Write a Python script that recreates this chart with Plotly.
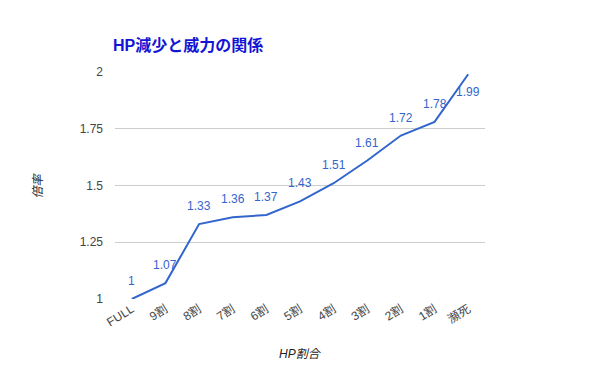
import plotly.graph_objects as go

categories = ["FULL", "9割", "8割", "7割", "6割", "5割", "4割", "3割", "2割", "1割", "瀕死"]
values = [1, 1.07, 1.33, 1.36, 1.37, 1.43, 1.51, 1.61, 1.72, 1.78, 1.99]
labels = ["1", "1.07", "1.33", "1.36", "1.37", "1.43", "1.51", "1.61", "1.72", "1.78", "1.99"]
y_ticks = [1, 1.25, 1.5, 1.75, 2]
y_ticktext = ["1", "1.25", "1.5", "1.75", "2"]

FONT = "Liberation Sans, Arial, Noto Sans CJK JP, sans-serif"

fig = go.Figure()
fig.add_trace(go.Scatter(
    x=list(range(len(categories))), y=values,
    mode="lines",
    line=dict(color="#3366cc", width=2),
    cliponaxis=False,
    hoverinfo="skip",
))

for i, (v, t) in enumerate(zip(values, labels)):
    below = i == len(values) - 1
    fig.add_annotation(
        x=i, y=v, text=t, showarrow=False,
        yshift=-18 if below else 18,
        font=dict(color="#3366cc", size=12, family=FONT),
    )

fig.add_annotation(
    xref="paper", yref="paper", x=0.5, y=-55 / 227, yanchor="middle",
    text="<i>HP割合</i>", showarrow=False,
    font=dict(size=12, color="#222222", family=FONT),
)
fig.add_annotation(
    xref="paper", yref="paper", x=-78 / 370, y=0.5, xanchor="center",
    text="<i>倍率</i>", showarrow=False, textangle=-90,
    font=dict(size=12, color="#222222", family=FONT),
)

# page body has an 8px default margin, compensate so the plot sits where the reference does
fig.update_layout(
    width=600, height=371,
    margin=dict(l=107, r=123, t=64, b=80),
    paper_bgcolor="white", plot_bgcolor="white",
    showlegend=False,
    font=dict(family=FONT, color="#444444", size=12),
    title=dict(
        text="<b>HP減少と威力の関係</b>",
        x=105 / 600, xanchor="left", y=1 - 37 / 371, yanchor="middle",
        font=dict(size=16, color="#1414d4", family=FONT),
    ),
    xaxis=dict(
        range=[-0.5, len(categories) - 0.5],
        tickmode="array",
        tickvals=list(range(len(categories))),
        ticktext=categories,
        tickangle=-32,
        showgrid=False, zeroline=False, showline=False,
        ticks="", automargin=False,
        tickfont=dict(size=12, color="#444444"),
        fixedrange=True,
    ),
    yaxis=dict(
        range=[1, 2],
        tickmode="array",
        tickvals=y_ticks,
        ticktext=y_ticktext,
        showgrid=True, gridcolor="#cccccc", gridwidth=1,
        zeroline=False, showline=False,
        ticks="", ticklabelstandoff=11, automargin=False,
        tickfont=dict(size=12, color="#444444"),
        fixedrange=True,
    ),
)

fig.write_html("out.html")
